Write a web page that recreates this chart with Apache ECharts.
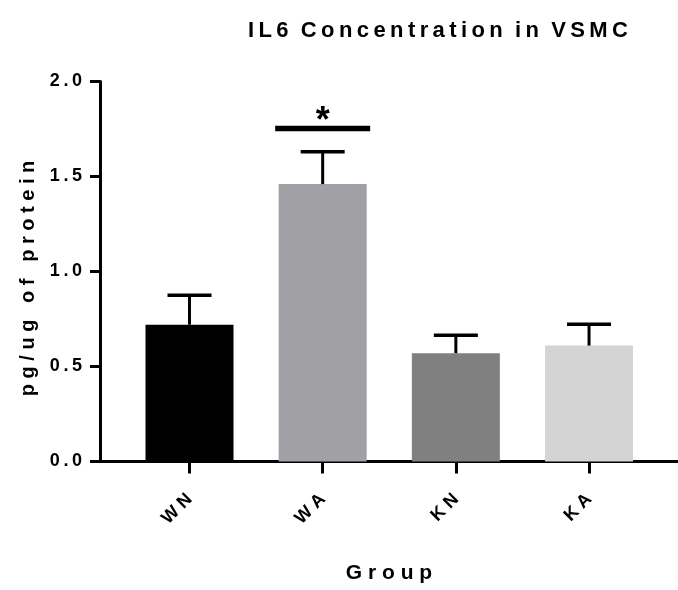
<!DOCTYPE html>
<html>
<head>
<meta charset="utf-8">
<script src="https://cdn.jsdelivr.net/npm/echarts@6/dist/echarts.min.js"></script>
<style>
  html, body { margin: 0; padding: 0; background: #fff; }
  #chart { width: 678px; height: 590px; }
</style>
</head>
<body>
<div id="chart"></div>
<script>
// ---- data ----
const categories = ['WN', 'WA', 'KN', 'KA'];
const means = [0.72, 1.46, 0.57, 0.61];
const errorTop = [0.875, 1.63, 0.665, 0.722];
const barColors = ['#000000', '#a1a1a5', '#808080', '#d4d4d4'];
const yTicks = [0, 0.5, 1.0, 1.5, 2.0];
const sigIndex = [1];
const sigLevel = [1.752];
const sigLabel = ['*'];
const titleText = 'IL6 Concentration in VSMC';
const yName = 'pg/ug of protein';
const xName = 'Group';

// ---- helpers ----
const FONT = "'Liberation Sans', Arial, Helvetica, sans-serif";
const THIN = '\u2009';
const spaced = s => s.split(' ').map(w => w.split('').join(' ')).join('   ');
const spacedThin = (s, gap) => s.split(' ').map(w => w.split('').join(THIN)).join(gap || '   ');
const BAR_W = 88;

const chart = echarts.init(document.getElementById('chart'));
chart.setOption({
  animation: false,
  backgroundColor: '#ffffff',
  title: {
    text: spacedThin(titleText, '  '),
    left: 243,
    top: 15,
    textStyle: { fontFamily: FONT, fontWeight: 'bold', fontSize: 22, color: '#000' }
  },
  grid: { left: 100, right: 0, top: 81.5, bottom: 128.5, containLabel: false },
  xAxis: {
    type: 'value',
    min: -0.672,
    max: 3.668,
    splitLine: { show: false },
    axisLine: { onZero: false, lineStyle: { color: '#000', width: 3 } },
    axisTick: { show: true, length: 12, customValues: categories.map((c, i) => i), lineStyle: { color: '#000', width: 3 } },
    axisLabel: {
      customValues: categories.map((c, i) => i),
      formatter: v => spaced(categories[Math.round(v)] || ''),
      rotate: 45,
      margin: 35,
      fontFamily: FONT, fontWeight: 'bold', fontSize: 18, color: '#000'
    },
    name: spaced(xName),
    nameLocation: 'middle',
    nameGap: 101,
    nameTextStyle: { fontFamily: FONT, fontWeight: 'bold', fontSize: 21, color: '#000' }
  },
  yAxis: {
    type: 'value',
    min: 0,
    max: 2,
    interval: 0.5,
    splitLine: { show: false },
    axisLine: { show: true, onZero: false, lineStyle: { color: '#000', width: 3 } },
    axisTick: { show: true, length: 10, lineStyle: { color: '#000', width: 3 } },
    axisLabel: {
      formatter: v => spacedThin(v.toFixed(1)),
      margin: 18,
      fontFamily: FONT, fontWeight: 'bold', fontSize: 18, color: '#000'
    },
    name: spaced(yName),
    nameLocation: 'middle',
    nameGap: 62,
    nameRotate: 90,
    nameTextStyle: { fontFamily: FONT, fontWeight: 'bold', fontSize: 20, color: '#000', padding: [0, 14, 0, 0] }
  },
  series: [
    {
      type: 'bar',
      barWidth: BAR_W,
      data: means.map((v, i) => ({ value: [i, v], itemStyle: { color: barColors[i] } })),
      z: 2
    },
    {
      type: 'custom',
      data: means.map((v, i) => [i, v, errorTop[i]]),
      encode: { x: 0, y: [1, 2] },
      z: 3,
      renderItem: (params, api) => {
        const x = api.value(0);
        const base = api.coord([x, api.value(1)]);
        const top = api.coord([x, api.value(2)]);
        return {
          type: 'group',
          children: [
            { type: 'line', shape: { x1: base[0], y1: base[1], x2: top[0], y2: top[1] }, style: { stroke: '#000', lineWidth: 3 } },
            { type: 'line', shape: { x1: top[0] - 22, y1: top[1], x2: top[0] + 22, y2: top[1] }, style: { stroke: '#000', lineWidth: 3.5 } }
          ]
        };
      }
    },
    {
      type: 'custom',
      data: sigIndex.map((c, i) => [c, sigLevel[i]]),
      encode: { x: 0, y: 1 },
      z: 3,
      renderItem: (params, api) => {
        const p = api.coord([api.value(0), api.value(1)]);
        const hw = BAR_W / 2 + 3.5;
        return {
          type: 'group',
          children: [
            { type: 'rect', shape: { x: p[0] - hw, y: p[1] - 2.75, width: hw * 2, height: 5.5 }, style: { fill: '#000' } },
            { type: 'text', style: { text: sigLabel[params.dataIndex], x: p[0], y: p[1] + 11, align: 'center', verticalAlign: 'bottom', font: "bold 36px " + FONT, fill: '#000' } }
          ]
        };
      }
    }
  ]
});
</script>
</body>
</html>
